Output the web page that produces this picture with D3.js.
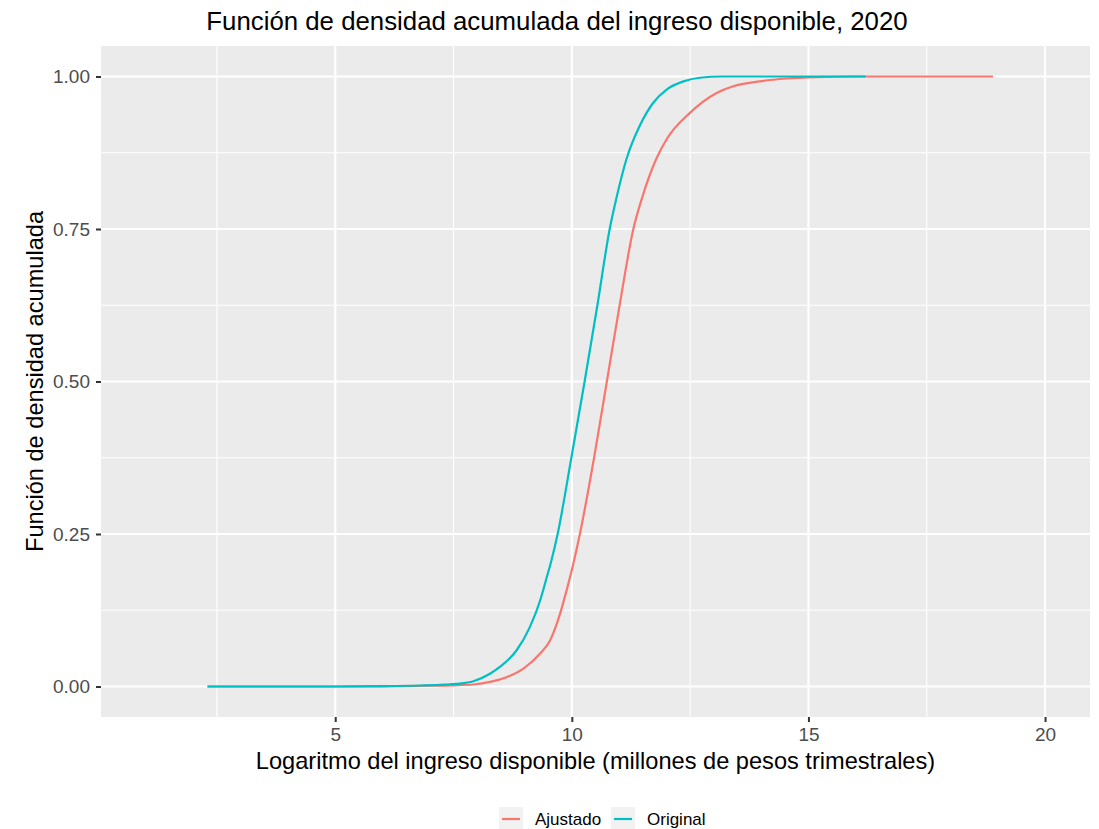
<!DOCTYPE html>
<html>
<head>
<meta charset="utf-8">
<script src="https://cdn.jsdelivr.net/npm/d3@7"></script>
<style>
  html, body { margin: 0; padding: 0; background: #ffffff; }
  svg { display: block; font-family: "Liberation Sans", Arial, sans-serif; }
</style>
</head>
<body>
<svg id="chart" width="1099" height="829"></svg>
<script>
// ---- Data ----
const seriesNames = ["Ajustado", "Original"];
const seriesColors = ["#F8766D", "#00BFC4"];

const xAjustado = [2.3, 5.0, 6.0, 7.0, 7.5, 7.92, 8.3, 8.62, 8.97, 9.33, 9.54, 9.75, 9.89, 10.03, 10.17, 10.47, 10.74, 11.01, 11.30, 11.48, 11.79, 12.01, 12.49, 13.06, 13.41, 13.97, 14.54, 15.16, 16.0, 17.0, 18.9];
const yAjustado = [0, 0, 0.0003, 0.0012, 0.002, 0.0033, 0.008, 0.0153, 0.029, 0.054, 0.0755, 0.119, 0.158, 0.201, 0.25, 0.375, 0.5, 0.625, 0.75, 0.80, 0.866, 0.898, 0.940, 0.973, 0.984, 0.992, 0.9967, 0.999, 1.0, 1.0, 1.0];

const xOriginal = [2.3, 5.0, 6.0, 6.8, 7.3, 7.57, 7.92, 8.27, 8.52, 8.83, 9.11, 9.33, 9.47, 9.57, 9.70, 9.99, 10.27, 10.54, 10.80, 10.94, 11.16, 11.44, 11.72, 12.01, 12.36, 12.70, 13.17, 14.0, 16.21];
const yOriginal = [0, 0, 0.0005, 0.0016, 0.003, 0.0044, 0.0087, 0.021, 0.0345, 0.059, 0.097, 0.141, 0.179, 0.207, 0.25, 0.375, 0.5, 0.625, 0.75, 0.80, 0.866, 0.92, 0.957, 0.979, 0.992, 0.998, 1.0, 1.0, 1.0];

const xTicks = [5, 10, 15, 20];
const xMinor = [2.5, 7.5, 12.5, 17.5];
const yTicks = [0, 0.25, 0.5, 0.75, 1.0];
const yMinor = [0.125, 0.375, 0.625, 0.875];

const titleText = "Función de densidad acumulada del ingreso disponible, 2020";
const xTitle = "Logaritmo del ingreso disponible (millones de pesos trimestrales)";
const yTitle = "Función de densidad acumulada";

// ---- Layout ----
const svg = d3.select("#chart");
const panel = { left: 101, right: 1090, top: 46, bottom: 717 };

const x = d3.scaleLinear().domain([0.05, 20.95]).range([panel.left, panel.right]);
const y = d3.scaleLinear().domain([-0.05, 1.05]).range([panel.bottom, panel.top]);

// panel background
svg.append("rect")
  .attr("x", panel.left).attr("y", panel.top)
  .attr("width", panel.right - panel.left).attr("height", panel.bottom - panel.top)
  .attr("fill", "#ebebeb");

const grid = svg.append("g");
// minor grid
grid.selectAll("line.xminor").data(xMinor).enter().append("line")
  .attr("x1", d => x(d)).attr("x2", d => x(d))
  .attr("y1", panel.top).attr("y2", panel.bottom)
  .attr("stroke", "#ffffff").attr("stroke-width", 1.1);
grid.selectAll("line.yminor").data(yMinor).enter().append("line")
  .attr("y1", d => y(d)).attr("y2", d => y(d))
  .attr("x1", panel.left).attr("x2", panel.right)
  .attr("stroke", "#ffffff").attr("stroke-width", 1.1);
// major grid
grid.selectAll("line.xmajor").data(xTicks).enter().append("line")
  .attr("x1", d => x(d)).attr("x2", d => x(d))
  .attr("y1", panel.top).attr("y2", panel.bottom)
  .attr("stroke", "#ffffff").attr("stroke-width", 2.2);
grid.selectAll("line.ymajor").data(yTicks).enter().append("line")
  .attr("y1", d => y(d)).attr("y2", d => y(d))
  .attr("x1", panel.left).attr("x2", panel.right)
  .attr("stroke", "#ffffff").attr("stroke-width", 2.2);

// ---- Lines ----
const series = [
  { name: seriesNames[0], color: seriesColors[0], xs: xAjustado, ys: yAjustado },
  { name: seriesNames[1], color: seriesColors[1], xs: xOriginal, ys: yOriginal }
];
const line = d3.line()
  .x(d => x(d[0])).y(d => y(d[1]))
  .curve(d3.curveMonotoneX);

svg.append("g").selectAll("path").data(series).enter().append("path")
  .attr("d", s => line(s.xs.map((v, i) => [v, s.ys[i]])))
  .attr("fill", "none")
  .attr("stroke", s => s.color)
  .attr("stroke-width", 2.2)
  .attr("stroke-linejoin", "round");

// ---- Axes ----
const FONT = "Liberation Sans, Arial, sans-serif";
const xAxis = d3.axisBottom(x).tickValues(xTicks).tickFormat(d3.format("d")).tickSize(5).tickPadding(6);
const gx = svg.append("g").attr("transform", `translate(0,${panel.bottom})`).call(xAxis);
gx.select(".domain").remove();
gx.selectAll(".tick line").attr("stroke", "#333333").attr("stroke-width", 2);
gx.selectAll(".tick text").attr("fill", "#4d4d4d").attr("font-size", 19).attr("font-family", FONT);

const yAxis = d3.axisLeft(y).tickValues(yTicks).tickFormat(d3.format(".2f")).tickSize(5).tickPadding(6);
const gy = svg.append("g").attr("transform", `translate(${panel.left},0)`).call(yAxis);
gy.select(".domain").remove();
gy.selectAll(".tick line").attr("stroke", "#333333").attr("stroke-width", 2);
gy.selectAll(".tick text").attr("fill", "#4d4d4d").attr("font-size", 19).attr("font-family", FONT);

// ---- Titles ----
svg.append("text")
  .attr("x", 557).attr("y", 30)
  .attr("text-anchor", "middle")
  .attr("font-size", 25.8)
  .attr("fill", "#000")
  .text(titleText);

svg.append("text")
  .attr("x", (panel.left + panel.right) / 2).attr("y", 769)
  .attr("text-anchor", "middle")
  .attr("font-size", 23.6)
  .attr("fill", "#000")
  .text(xTitle);

svg.append("text")
  .attr("transform", `translate(43,${(panel.top + panel.bottom) / 2}) rotate(-90)`)
  .attr("text-anchor", "middle")
  .attr("font-size", 23.6)
  .attr("fill", "#000")
  .text(yTitle);

// ---- Legend ----
const legend = svg.append("g");
const legendItems = [
  { name: seriesNames[0], color: seriesColors[0], kx: 499, tx: 535 },
  { name: seriesNames[1], color: seriesColors[1], kx: 611, tx: 647 }
];
legendItems.forEach(it => {
  legend.append("rect").attr("x", it.kx).attr("y", 807).attr("width", 24).attr("height", 22).attr("fill", "#f2f2f2");
  legend.append("line").attr("x1", it.kx + 3).attr("x2", it.kx + 21)
    .attr("y1", 819).attr("y2", 819)
    .attr("stroke", it.color).attr("stroke-width", 2.2);
  legend.append("text").attr("x", it.tx).attr("y", 824.5)
    .attr("font-size", 17).attr("fill", "#000").text(it.name);
});
</script>
</body>
</html>
